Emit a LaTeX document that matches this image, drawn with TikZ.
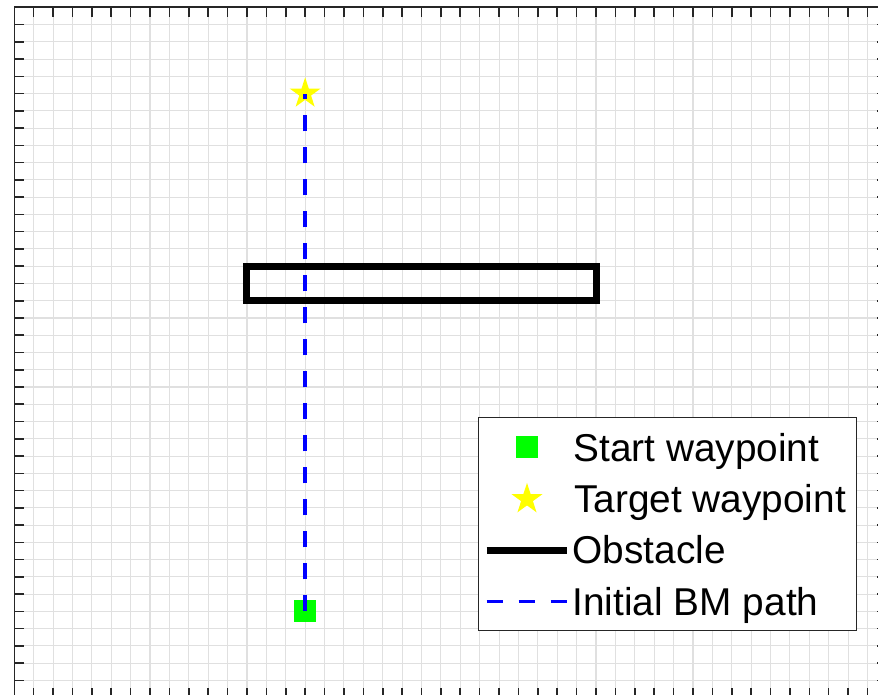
\documentclass[tikz,border=0pt]{standalone}
\usepackage{fontspec}
\setmainfont{Liberation Sans}
\usetikzlibrary{shapes.geometric}
\definecolor{axcol}{rgb}{0.15,0.15,0.15}
\definecolor{gridcol}{rgb}{0.88,0.88,0.88}
\definecolor{startgreen}{rgb}{0,1,0}
\definecolor{pathblue}{rgb}{0,0,1}
\definecolor{staryellow}{rgb}{1,1,0}
\begin{document}
\begin{tikzpicture}[x=1pt,y=-1pt,
  gridline/.style={gridcol, line width=1.1pt},
  axisline/.style={axcol, line width=1.6pt},
  tickmark/.style={axcol, line width=1.6pt},
  startmark/.style={rectangle, fill=startgreen, minimum size=22pt, inner sep=0pt, outer sep=0pt},
  targetmark/.style={star, star points=5, star point ratio=2.618, fill=staryellow, minimum size=32.5pt, inner sep=0pt, outer sep=0pt},
  obstacleline/.style={black, line width=7pt, line join=miter},
  bmpath/.style={pathblue, line width=3.5pt, dash pattern=on 16pt off 16pt},
  legendbox/.style={draw=axcol, fill=white, line width=1.4pt},
  legendtext/.style={anchor=base west, inner sep=0pt, font=\fontsize{38.8}{46}\selectfont}
]
\useasboundingbox (0,0) rectangle (878,695);
\fill[white] (0,0) rectangle (878,695);
\begin{scope}
  \clip (0,0) rectangle (878,695);
  \foreach \i in {1,...,44} \draw[gridline] ({14.3+19.39*\i},7.3) -- ({14.3+19.39*\i},697.7);
  \foreach \j in {1,...,39} \draw[gridline] (14.3,{7.3+17.26*\j}) -- (886.8,{7.3+17.26*\j});
  \foreach \i in {0,...,45} {
    \draw[tickmark] ({14.3+19.39*\i},7.3) -- ++(0,9.5);
    \draw[tickmark] ({14.3+19.39*\i},697.7) -- ++(0,-9.5);
  }
  \foreach \j in {0,...,40} {
    \draw[tickmark] (14.3,{7.3+17.26*\j}) -- ++(9.5,0);
    \draw[tickmark] (886.8,{7.3+17.26*\j}) -- ++(-9.5,0);
  }
  \draw[axisline] (14.3,7.3) rectangle (886.8,697.7);

  % obstacle
  \draw[obstacleline] (246.98,266.2) rectangle (596.0,300.7);
  % waypoints
  \node[startmark] (start) at (305.15,611.4) {};
  \node[targetmark] (target) at (305.15,93.6) {};
  % initial path
  \draw[bmpath] (start.center) -- (target.center);

  % legend
  \draw[legendbox] (478.3,417.3) rectangle (856.7,630.7);
  \node[startmark] (lgstart) at (527,446.7) {};
  \node[targetmark] (lgtarget) at (527,499.2) {};
  \coordinate (lgobsA) at (486.7,550);
  \coordinate (lgobsB) at (566.7,550);
  \draw[obstacleline] (lgobsA) -- (lgobsB);
  \coordinate (lgpathA) at (486.7,601.7);
  \coordinate (lgpathB) at (566.7,601.7);
  \draw[bmpath] (lgpathA) -- (lgpathB);
  \node[legendtext] (lgt1) at (573.2,461.7) {Start waypoint};
  \node[legendtext] (lgt2) at (574.0,512.0) {Target waypoint};
  \node[legendtext] (lgt3) at (572.3,563.8) {Obstacle};
  \node[legendtext] (lgt4) at (572.4,615.0) {Initial BM path};
\end{scope}
\end{tikzpicture}
\end{document}
